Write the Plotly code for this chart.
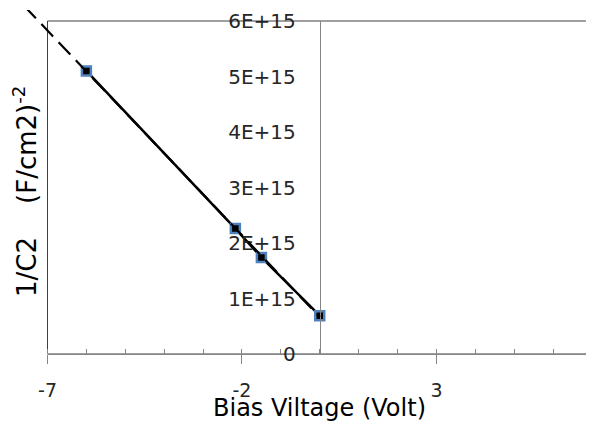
import numpy as np
import plotly.graph_objects as go

# ---- data ----
bias_volt = [-6.0, -2.17, -1.5, 0.0]
inv_c2 = [5.10e15, 2.26e15, 1.74e15, 0.69e15]
trend_x_ends = [-7.6, 0.0]

y_tick_vals = [0, 1e15, 2e15, 3e15, 4e15, 5e15, 6e15]
y_tick_text = ["0", "1E+15", "2E+15", "3E+15", "4E+15", "5E+15", "6E+15"]
x_tick_vals = [-7, -2, 3]
x_tick_text = ["-7", "-2", "3"]

X_RANGE = [-7, 7]
Y_RANGE = [0, 6e15]

# ---- layout geometry (figure pixels; page has an 8px body offset) ----
W, H = 586, 415
M_L, M_R, M_T = 2, 2, 2
PLOT_L, PLOT_R, PLOT_T, PLOT_B = 39.5, 584, 13, 346
M_B = H - PLOT_B
paper_w = W - M_L - M_R
paper_h = H - M_T - M_B
x_dom = [(PLOT_L - M_L) / paper_w, (PLOT_R - M_L) / paper_w]
y_dom = [0.0, (PLOT_B - PLOT_T) / paper_h]

# wider companion axes (same scale) so the trendline can run outside the plot box
x_upp = (X_RANGE[1] - X_RANGE[0]) / (PLOT_R - PLOT_L)
y_upp = (Y_RANGE[1] - Y_RANGE[0]) / (PLOT_B - PLOT_T)
x2_range = [X_RANGE[0] - (PLOT_L - M_L) * x_upp,
            X_RANGE[1] + (W - M_R - PLOT_R) * x_upp]
y2_range = [Y_RANGE[0], Y_RANGE[1] + (PLOT_T - M_T) * y_upp]

slope, intercept = np.polyfit(bias_volt, inv_c2, 1)
trend_y = [slope * xv + intercept for xv in trend_x_ends]

FONT = "DejaVu Sans"
TXT = "#262626"

fig = go.Figure()
fig.add_trace(go.Scatter(
    x=bias_volt, y=inv_c2, mode="lines+markers",
    line=dict(color="black", width=2.5),
    marker=dict(symbol="square", size=9, color="black",
                line=dict(color="#4f81bd", width=2.5)),
    cliponaxis=False, showlegend=False))
fig.add_trace(go.Scatter(
    x=trend_x_ends, y=trend_y, mode="lines", xaxis="x2", yaxis="y2",
    line=dict(color="black", width=2.2, dash="17px,8px"), showlegend=False,
    hoverinfo="skip"))

fig.update_layout(
    width=W, height=H,
    margin=dict(l=M_L, r=M_R, t=M_T, b=M_B, autoexpand=False),
    paper_bgcolor="white", plot_bgcolor="rgba(0,0,0,0)",
    font=dict(family=FONT, color=TXT),
    xaxis=dict(
        domain=x_dom, range=X_RANGE, anchor="y", automargin=False,
        tickmode="array", tickvals=x_tick_vals, ticktext=x_tick_text,
        ticks="outside", ticklen=9, tickcolor="#868686", tickwidth=1,
        minor=dict(ticks="inside", ticklen=5, dtick=1, tick0=-7,
                   tickcolor="#868686", tickwidth=1, showgrid=False),
        showline=True, linecolor="#868686", linewidth=1,
        showgrid=False, zeroline=False,
        tickfont=dict(family=FONT, size=19, color=TXT),
        ticklabelstandoff=10,
    ),
    yaxis=dict(
        domain=y_dom, range=Y_RANGE, anchor="free", automargin=False,
        position=x_dom[0] + (x_dom[1] - x_dom[0]) * (0 - X_RANGE[0]) / (X_RANGE[1] - X_RANGE[0]),
        tickmode="array", tickvals=y_tick_vals, ticktext=y_tick_text,
        ticks="", showline=True, linecolor="#868686", linewidth=1,
        showgrid=False, zeroline=False,
        tickfont=dict(family=FONT, size=20, color=TXT),
        ticklabelstandoff=20,
    ),
    xaxis2=dict(domain=[0, 1], range=x2_range, anchor="y2", visible=False),
    yaxis2=dict(domain=[0, 1], range=y2_range, anchor="x2", visible=False),
    shapes=[dict(type="rect", xref="x domain", yref="y domain",
                 x0=0, x1=1, y0=0, y1=1, layer="below",
                 line=dict(color="#404040", width=1))],
    annotations=[
        dict(text="1/C2&nbsp;&nbsp;&nbsp;&nbsp;(F/cm2)<sup>-2</sup>",
             xref="paper", yref="paper", x=(17 - M_L) / paper_w,
             y=(PLOT_B - 184) / paper_h, textangle=-90, showarrow=False,
             xanchor="center", yanchor="middle",
             font=dict(family=FONT, size=26, color="black")),
        dict(text="Bias Viltage (Volt)",
             xref="paper", yref="paper", x=(x_dom[0] + x_dom[1]) / 2,
             y=(PLOT_B - 400) / paper_h, showarrow=False,
             xanchor="center", yanchor="middle",
             font=dict(family=FONT, size=24, color="black")),
    ],
)

fig.write_html("out.html")
